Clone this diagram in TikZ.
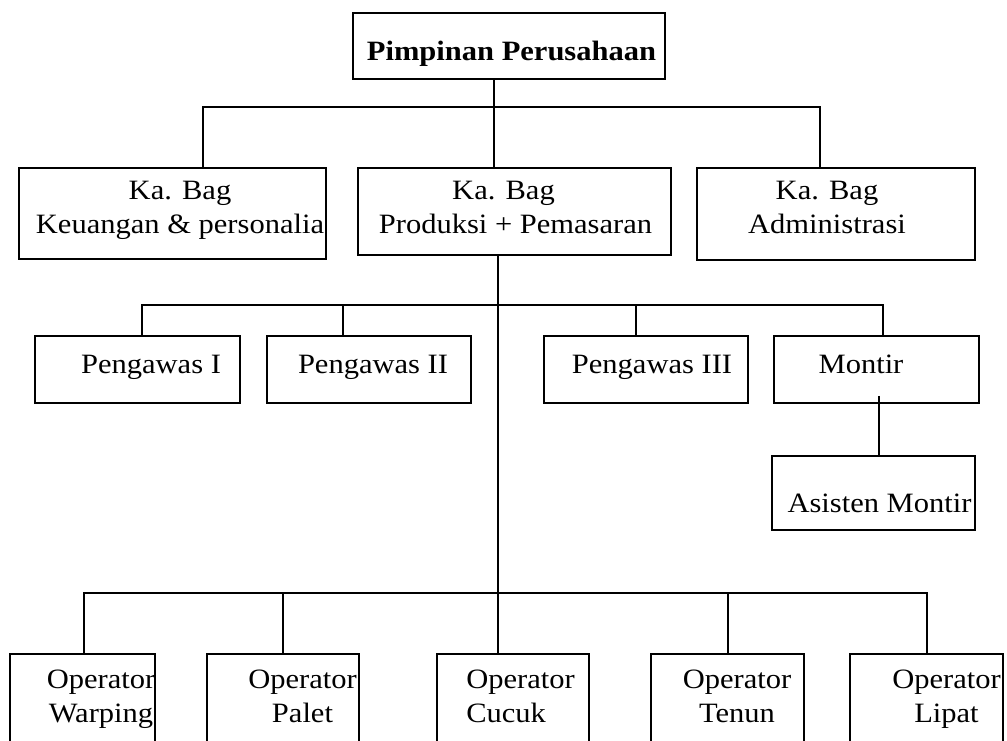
\documentclass[tikz,border=0pt]{standalone}
\usepackage{fontspec}
\setmainfont{Liberation Serif}[FakeStretch=1.09]
\usepackage{tikz}
\usetikzlibrary{positioning,calc}

% text moved sideways inside its box, box size kept
\newcommand{\moved}[2]{\makebox[0pt]{\hspace*{#1pt}#2\hspace*{-#1pt}}}
\newcommand{\twolines}[2]{\begin{tabular}[t]{@{}c@{}}#1\\#2\end{tabular}}

\begin{document}
\begin{tikzpicture}[x=1pt, y=-1pt,
    block/.style={rectangle, draw, line width=1.8pt, inner sep=0pt, font=\fontsize{28}{34}\selectfont},
    row_b/.style={block, minimum height=67pt, text height=37pt, text depth=30pt},
    row_op/.style={block, minimum height=116pt, text height=34.5pt, text depth=81.5pt},
    line/.style={draw, line width=1.4pt}]
    \path [fill=white, use as bounding box] (0,0) rectangle (1007,740);

    % pimpinan
    \node [block, font=\fontsize{28}{34}\selectfont\bfseries, minimum width=312pt, minimum height=66pt, text height=47pt, text depth=19pt] (lead) at (509,46) {\moved{2.5}{Pimpinan Perusahaan}};

    % kepala bagian
    \node [block, minimum width=307pt, minimum height=91pt, text height=31pt, text depth=60pt] (keu) at (172.5,213.5) {\moved{7.5}{\twolines{Ka. Bag}{Keuangan \& personalia}}};
    \node [block, minimum width=313pt, minimum height=87pt, text height=31pt, text depth=56pt] (prod) at (514.5,211.5) {\moved{1}{\twolines{Ka. Bag\hspace*{24pt}}{Produksi + Pemasaran}}};
    \node [block, minimum width=278pt, minimum height=92pt, text height=31pt, text depth=61pt] (adm) at (836,214) {\moved{-9}{\twolines{Ka. Bag}{Administrasi}}};

    % pengawas dan montir
    \node [row_b, minimum width=205pt] (pengI) at (137.5,369.5) {\moved{13.5}{Pengawas I}};
    \node [row_b, minimum width=204pt] (pengII) at (369,369.5) {\moved{4}{Pengawas II}};
    \node [row_b, minimum width=204pt] (pengIII) at (646,369.5) {\moved{6}{Pengawas III}};
    \node [row_b, minimum width=205pt] (montir) at (876.5,369.5) {\moved{-15.5}{Montir}};
    \node [block, minimum width=203pt, minimum height=74pt, text height=56pt, text depth=18pt] (asisten) at (873.5,493) {\moved{6}{Asisten Montir}};

    % operator
    \node [row_op, minimum width=145pt] (warp) at (82.5,712) {\moved{18.5}{\twolines{Operator}{Warping}}};
    \node [row_op, minimum width=152pt] (palet) at (283,712) {\moved{19.5}{\twolines{Operator}{Palet}}};
    \node [row_op, minimum width=152pt] (cucuk) at (513,712) {\moved{7.5}{\begin{tabular}[t]{@{}l@{}}Operator\\Cucuk\end{tabular}}};
    \node [row_op, minimum width=153pt] (tenun) at (727.5,712) {\moved{9.5}{\twolines{Operator}{Tenun}}};
    \node [row_op, minimum width=153pt] (lipat) at (926.5,712) {\moved{20}{\twolines{Operator}{Lipat}}};

    \coordinate (busA) at (494,107);
    \coordinate (busB) at (498,305);
    \coordinate (busC) at (498,593);

    \path [line] ([xshift=-15pt]lead.south) -- ([xshift=-20.5pt]prod.north);
    \path [line] ([xshift=30.5pt]keu.north) |- (busA) -| ([xshift=-16pt]adm.north);
    \path [line] ([xshift=-16.5pt]prod.south) -- ([xshift=-15pt]cucuk.north);
    \path [line] ([xshift=4.5pt]pengI.north) |- (busB) -| ([xshift=6.5pt]montir.north);
    \path [line] ([xshift=-26pt]pengII.north) |- (busB);
    \path [line] ([xshift=-10pt]pengIII.north) |- (busB);
    \path [line] ([xshift=2.5pt,yshift=8pt]montir.south) -- ([xshift=5.5pt]asisten.north);
    \path [line] ([xshift=1.5pt]warp.north) |- (busC) -| ([xshift=0.5pt]lipat.north);
    \path [line] (palet.north) |- (busC);
    \path [line] ([xshift=0.5pt]tenun.north) |- (busC);
\end{tikzpicture}
\end{document}
